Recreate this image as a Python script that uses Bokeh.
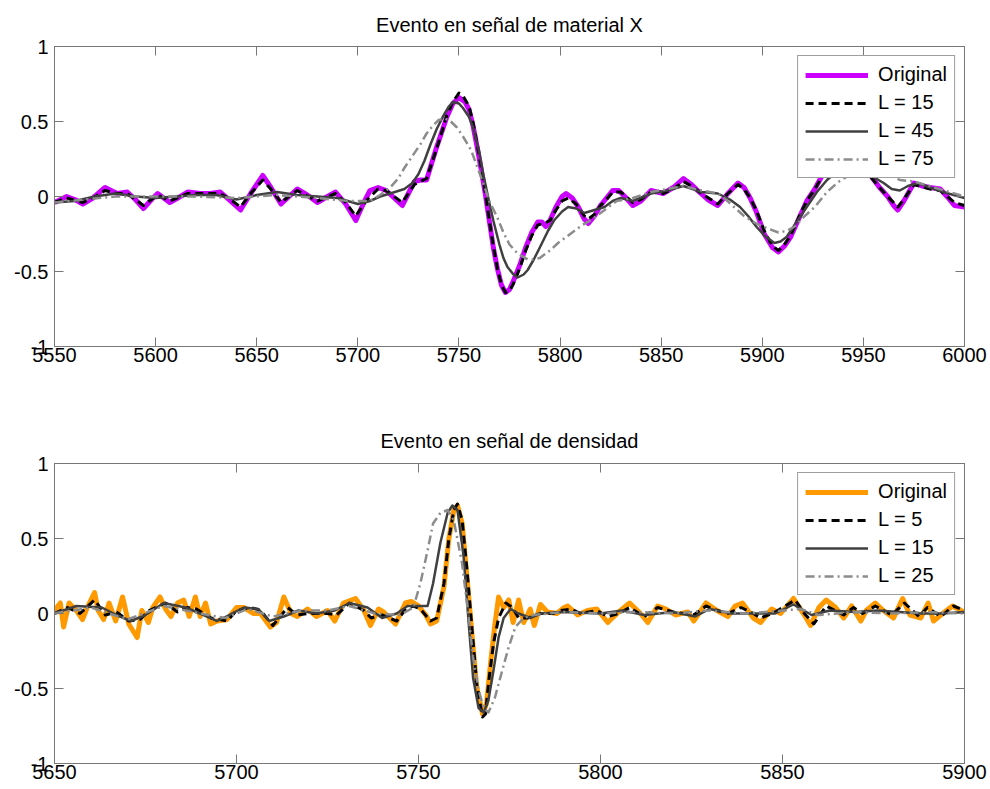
from bokeh.plotting import figure
from bokeh.layouts import column
from bokeh.models import Range1d, FixedTicker, LinearAxis
from bokeh.embed import file_html
from bokeh.resources import INLINE

FONT = "Liberation Sans"

# ---------------- shared y axis ----------------
y_ticks = [-1, -0.5, 0, 0.5, 1]
y_tick_labels = ["-1", "-0.5", "0", "0.5", "1"]

# ---------------- upper panel: material X ----------------
top_title = "Evento en señal de material X"
top_x_ticks = [5550, 5600, 5650, 5700, 5750, 5800, 5850, 5900, 5950, 6000]
top_x_tick_labels = ["5550", "5600", "5650", "5700", "5750", "5800", "5850", "5900", "5950", "6000"]
top_labels = ["Original", "L = 15", "L = 45", "L = 75"]

matx_orig_x = [5550, 5553, 5556, 5560, 5564, 5569, 5575, 5581, 5586, 5590, 5594, 5598, 5601, 5607,
               5611, 5616, 5622, 5627, 5632, 5637, 5642, 5647, 5653, 5657, 5662, 5666, 5670, 5675,
               5680, 5685, 5689, 5694, 5699, 5703, 5706, 5710, 5714, 5718, 5722, 5725, 5728, 5731,
               5734, 5736, 5739, 5742, 5744, 5747, 5750, 5753, 5755, 5757, 5759, 5761, 5763, 5765,
               5767, 5769, 5771, 5773, 5775, 5777, 5780, 5783, 5786, 5789, 5791, 5793, 5795, 5798,
               5801, 5803, 5806, 5809, 5812, 5814, 5817, 5820, 5823, 5826, 5829, 5832, 5836, 5840,
               5845, 5851, 5856, 5861, 5865, 5868, 5873, 5878, 5883, 5888, 5891, 5894, 5897, 5901,
               5905, 5908, 5911, 5914, 5918, 5922, 5926, 5930, 5935, 5940, 5945, 5950, 5953, 5958,
               5962, 5965, 5967, 5970, 5975, 5979, 5983, 5988, 5992, 5995, 6000]
matx_orig_y = [-0.04, -0.02, 0.0, -0.02, -0.05, -0.01, 0.06, 0.02, 0.03, -0.02, -0.08, -0.02, 0.02, -0.04,
               -0.01, 0.03, 0.02, 0.02, 0.03, -0.03, -0.09, 0.02, 0.14, 0.06, -0.05, 0.0, 0.05, 0.01,
               -0.04, 0.0, 0.03, -0.05, -0.16, -0.04, 0.04, 0.06, 0.04, -0.01, -0.06, 0.02, 0.10, 0.11,
               0.11, 0.20, 0.33, 0.45, 0.53, 0.62, 0.66, 0.63, 0.58, 0.47, 0.33, 0.18, 0.02, -0.16,
               -0.34, -0.48, -0.59, -0.64, -0.62, -0.56, -0.46, -0.34, -0.24, -0.17, -0.17, -0.20, -0.16, -0.07,
               0.0, 0.02, -0.01, -0.07, -0.15, -0.18, -0.13, -0.06, -0.01, 0.04, 0.04, 0.0, -0.06, -0.03,
               0.04, 0.02, 0.06, 0.12, 0.08, 0.04, -0.02, -0.06, 0.02, 0.09, 0.06, -0.01, -0.10, -0.25,
               -0.34, -0.37, -0.33, -0.27, -0.15, -0.03, 0.05, 0.15, 0.23, 0.28, 0.27, 0.20, 0.15, 0.06,
               0.0, -0.06, -0.09, -0.03, 0.09, 0.07, 0.06, 0.05, -0.01, -0.06, -0.07]

matx_l15_x = [5550, 5556, 5564, 5569, 5575, 5581, 5586, 5594, 5601, 5607, 5616, 5622, 5632, 5637,
              5642, 5647, 5653, 5657, 5662, 5670, 5680, 5689, 5694, 5699, 5704, 5710, 5714, 5718,
              5722, 5725, 5728, 5731, 5734, 5736, 5739, 5742, 5744, 5747, 5750, 5752, 5755, 5757,
              5759, 5761, 5763, 5765, 5767, 5769, 5771, 5773, 5775, 5777, 5780, 5783, 5786, 5789,
              5792, 5795, 5798, 5801, 5804, 5808, 5812, 5814, 5817, 5820, 5823, 5826, 5830, 5836,
              5840, 5845, 5851, 5856, 5861, 5865, 5870, 5878, 5883, 5888, 5891, 5894, 5897, 5901,
              5905, 5908, 5911, 5914, 5918, 5922, 5926, 5930, 5935, 5940, 5945, 5950, 5953, 5958,
              5962, 5967, 5970, 5975, 5983, 5988, 5995, 6000]
matx_l15_y = [-0.04, -0.01, -0.04, -0.01, 0.04, 0.02, 0.02, -0.06, 0.01, -0.03, 0.02, 0.02, 0.02, -0.02,
              -0.07, 0.02, 0.11, 0.05, -0.04, 0.04, -0.03, 0.02, -0.04, -0.13, -0.03, 0.05, 0.04, 0.0,
              -0.04, 0.02, 0.08, 0.10, 0.12, 0.20, 0.32, 0.45, 0.54, 0.63, 0.69, 0.67, 0.60, 0.49,
              0.35, 0.19, 0.03, -0.16, -0.33, -0.48, -0.59, -0.64, -0.63, -0.58, -0.48, -0.36, -0.26, -0.19,
              -0.18, -0.16, -0.09, -0.03, -0.01, -0.05, -0.13, -0.15, -0.12, -0.06, -0.02, 0.03, 0.03, -0.04,
              -0.02, 0.03, 0.02, 0.05, 0.10, 0.07, 0.02, -0.05, 0.02, 0.08, 0.05, -0.01, -0.09, -0.23,
              -0.33, -0.36, -0.32, -0.26, -0.14, -0.03, 0.05, 0.14, 0.22, 0.26, 0.25, 0.19, 0.14, 0.06,
              0.0, -0.07, -0.02, 0.08, 0.05, 0.04, -0.04, -0.06]

matx_l45_x = [5550, 5560, 5570, 5580, 5590, 5600, 5610, 5620, 5630, 5640, 5650, 5660, 5670, 5680,
              5690, 5700, 5706, 5711, 5716, 5723, 5727, 5730, 5733, 5736, 5739, 5742, 5745, 5747,
              5750, 5752, 5755, 5757, 5760, 5762, 5765, 5767, 5770, 5772, 5774, 5777, 5779, 5782,
              5784, 5787, 5790, 5794, 5797, 5801, 5804, 5808, 5812, 5817, 5822, 5826, 5830, 5836,
              5845, 5853, 5861, 5870, 5878, 5884, 5889, 5893, 5897, 5901, 5906, 5909, 5912, 5917,
              5922, 5927, 5932, 5938, 5944, 5950, 5955, 5960, 5964, 5968, 5972, 5977, 5985, 5992, 6000]
matx_l45_y = [-0.04, -0.03, 0.0, 0.02, 0.0, -0.01, 0.0, 0.01, 0.01, -0.02, 0.01, 0.03, 0.01, 0.0,
              -0.01, -0.05, -0.03, 0.0, 0.02, 0.05, 0.09, 0.15, 0.24, 0.35, 0.45, 0.53, 0.60, 0.63,
              0.62, 0.59, 0.53, 0.46, 0.30, 0.15, -0.04, -0.16, -0.32, -0.41, -0.47, -0.52, -0.54, -0.52,
              -0.49, -0.42, -0.34, -0.23, -0.16, -0.10, -0.07, -0.08, -0.11, -0.09, -0.07, -0.03, -0.01, -0.03,
              0.02, 0.04, 0.07, 0.03, 0.02, -0.02, -0.07, -0.13, -0.20, -0.26, -0.31, -0.30, -0.27, -0.17,
              -0.07, 0.03, 0.11, 0.18, 0.20, 0.17, 0.13, 0.09, 0.05, 0.04, 0.07, 0.09, 0.05, 0.02, -0.01]

matx_l75_x = [5550, 5565, 5580, 5600, 5620, 5640, 5660, 5680, 5695, 5706, 5711, 5716, 5720, 5723,
              5727, 5731, 5734, 5737, 5740, 5743, 5746, 5749, 5752, 5756, 5759, 5762, 5765, 5769,
              5772, 5775, 5779, 5784, 5787, 5790, 5795, 5799, 5803, 5807, 5811, 5815, 5820, 5828,
              5836, 5845, 5853, 5861, 5870, 5878, 5882, 5886, 5891, 5897, 5902, 5908, 5912, 5916,
              5921, 5926, 5932, 5938, 5944, 5950, 5956, 5962, 5968, 5975, 5980, 5990, 6000]
matx_l75_y = [-0.04, -0.02, 0.0, 0.0, 0.0, -0.01, 0.01, -0.01, -0.03, -0.03, 0.01, 0.06, 0.12, 0.19,
              0.27, 0.35, 0.42, 0.47, 0.51, 0.52, 0.50, 0.46, 0.40, 0.31, 0.20, 0.09, -0.03, -0.14,
              -0.24, -0.32, -0.38, -0.42, -0.42, -0.41, -0.36, -0.31, -0.27, -0.23, -0.19, -0.16, -0.11, -0.03,
              -0.01, 0.03, 0.05, 0.07, 0.04, 0.02, -0.02, -0.07, -0.13, -0.18, -0.21, -0.24, -0.23, -0.20,
              -0.13, -0.07, 0.03, 0.10, 0.15, 0.17, 0.16, 0.15, 0.11, 0.10, 0.08, 0.04, 0.0]

# ---------------- lower panel: density ----------------
bot_title = "Evento en señal de densidad"
bot_x_ticks = [5650, 5700, 5750, 5800, 5850, 5900]
bot_x_tick_labels = ["5650", "5700", "5750", "5800", "5850", "5900"]
bot_labels = ["Original", "L = 5", "L = 15", "L = 25"]

dens_orig_x = [5650, 5651.6, 5652.5, 5654, 5656, 5657.7, 5659, 5661, 5662, 5663.5, 5665, 5666.8, 5668.7,
               5670.4, 5672.7, 5674, 5675.8, 5677, 5679, 5680.5, 5682, 5683.8, 5685.5, 5687, 5688.7,
               5690, 5691.5, 5692.9, 5694.7, 5697.4, 5700, 5702, 5704.7, 5706.6, 5709.3, 5711, 5713,
               5715, 5716.7, 5719.5, 5722, 5725, 5727, 5729.4, 5732.7, 5735, 5736.8, 5739, 5740.4,
               5743.7, 5746.4, 5748, 5750, 5752, 5753.3, 5755, 5757, 5758.3, 5759.7, 5760.7, 5762,
               5763.4, 5764.8, 5766, 5767.6, 5768.7, 5769.8, 5771, 5772, 5773.4, 5774.8, 5776, 5777.5,
               5778.9, 5780.7, 5781.8, 5783.5, 5785.4, 5788, 5790, 5791, 5793.7, 5796.4, 5799, 5802,
               5805, 5808, 5811, 5813, 5815.7, 5818, 5820.6, 5824, 5825.6, 5829, 5832, 5835, 5837,
               5839, 5842, 5844, 5847, 5849.5, 5853, 5856, 5857.7, 5860, 5862, 5864.6, 5866.8, 5869,
               5871.5, 5873, 5875.5, 5877.7, 5880.5, 5883, 5885, 5888, 5890, 5891.5, 5894, 5896.7,
               5899, 5900]
dens_orig_y = [0.02, 0.07, -0.09, 0.07, 0.02, -0.04, 0.04, 0.14, 0.02, -0.04, 0.07, -0.05, 0.11,
               -0.07, -0.16, 0.02, -0.06, 0.04, 0.11, 0.03, -0.02, 0.07, 0.09, -0.02, 0.11,
               -0.02, 0.07, -0.07, -0.05, -0.04, 0.04, 0.04, 0.0, 0.0, -0.09, -0.06, 0.11,
               0.0, -0.02, 0.03, -0.02, 0.02, -0.05, 0.07, 0.10, 0.02, -0.08, 0.03, 0.01,
               -0.07, 0.07, 0.08, 0.05, -0.01, -0.07, -0.05, 0.18, 0.49, 0.69, 0.72, 0.60,
               0.22, -0.17, -0.49, -0.67, -0.60, -0.33, -0.07, 0.11, 0.04, 0.09, -0.06, 0.09,
               -0.06, 0.03, -0.08, 0.06, 0.01, 0.0, 0.04, 0.05, -0.01, 0.02, 0.03, -0.06,
               0.01, 0.07, 0.0, -0.06, 0.05, 0.03, -0.01, 0.01, -0.05, 0.07, 0.02, -0.02, 0.05,
               0.07, -0.03, -0.06, 0.03, 0.0, 0.10, -0.01, -0.08, 0.04, 0.09, 0.04, -0.03, 0.05,
               -0.05, 0.02, 0.07, 0.02, -0.03, 0.10, -0.01, -0.03, 0.07, -0.05, 0.0, 0.05,
               0.02, 0.01]

dens_l5_x = [5650, 5653.6, 5657, 5661, 5664, 5667, 5670.4, 5673.5, 5676, 5680.5, 5683.8, 5686.5, 5689,
             5693, 5697.5, 5700, 5704, 5706.6, 5710, 5714, 5716.7, 5720, 5725, 5727.5, 5731, 5735,
             5737, 5740, 5744, 5746.5, 5748.6, 5750.5, 5753.3, 5755, 5757, 5758.3, 5759.7, 5760.7,
             5762, 5763.4, 5764.8, 5766, 5767.6, 5768.4, 5769.3, 5770.6, 5772, 5774, 5775.8, 5777.5,
             5780, 5783.5, 5787, 5789, 5792, 5794.5, 5799, 5802, 5805, 5808, 5812, 5815.7, 5820,
             5825.6, 5829, 5832, 5835, 5838.6, 5842, 5844, 5848, 5853.5, 5856, 5858.6, 5862, 5866.8,
             5869.5, 5872, 5875.5, 5880, 5883.5, 5887.5, 5889.8, 5893.5, 5897, 5900]
dens_l5_y = [0.0, 0.04, 0.0, 0.09, -0.01, 0.01, -0.05, -0.04, 0.02, 0.07, 0.01, 0.04, 0.03,
             -0.03, -0.05, 0.02, 0.04, 0.02, -0.08, 0.04, -0.01, 0.0, 0.0, -0.01, 0.07, 0.02,
             -0.03, -0.01, -0.05, 0.03, 0.05, 0.03, -0.05, -0.03, 0.20, 0.49, 0.69, 0.73,
             0.62, 0.27, -0.13, -0.47, -0.69, -0.67, -0.45, -0.20, -0.03, 0.07, 0.04, -0.03,
             -0.03, 0.0, 0.0, 0.02, 0.03, 0.0, 0.02, -0.02, 0.0, 0.04, -0.02, 0.04, 0.01,
             -0.01, 0.05, 0.02, 0.0, 0.04, 0.0, -0.03, 0.01, 0.09, 0.0, -0.07, 0.05, -0.01,
             0.04, 0.0, 0.05, -0.01, 0.07, -0.02, 0.04, -0.02, 0.05, 0.02]

dens_l15_x = [5650, 5656, 5663, 5667, 5671, 5675, 5680, 5686, 5690, 5694.7, 5698, 5702, 5706, 5709,
              5713, 5717, 5722, 5727, 5731, 5736, 5740, 5744, 5747, 5750.5, 5752.5, 5754, 5756, 5758,
              5759.3, 5760.7, 5762.4, 5763.8, 5765, 5766.5, 5767.9, 5769.2, 5770.6, 5772, 5773.4,
              5775.3, 5777.5, 5780.7, 5783.5, 5790, 5800, 5806, 5812, 5820, 5826, 5830, 5836, 5842,
              5848, 5853, 5858, 5863, 5870, 5876, 5882, 5888, 5894, 5900]
dens_l15_y = [0.0, 0.05, 0.04, -0.01, -0.05, -0.01, 0.07, 0.04, 0.0, -0.05, -0.01, 0.04, 0.03, -0.05,
              -0.02, 0.02, 0.0, 0.02, 0.07, 0.04, -0.03, 0.0, 0.05, 0.05, 0.05, 0.20, 0.47, 0.67,
              0.72, 0.69, 0.38, -0.07, -0.43, -0.63, -0.66, -0.58, -0.38, -0.16, -0.03,
              0.03, 0.0, -0.03, 0.0, 0.01, 0.0, 0.02, -0.01, 0.01, -0.02, 0.03, 0.0, 0.0,
              0.0, 0.06, -0.01, 0.02, 0.01, 0.02, 0.01, 0.0, 0.0, 0.01]

dens_l25_x = [5650, 5660, 5670, 5680, 5690, 5697, 5703, 5710, 5718, 5725, 5731, 5738, 5745, 5748.6,
              5750.5, 5752.5, 5754, 5756, 5758, 5759.7, 5762, 5763.8, 5765, 5766.5, 5767.9, 5769.2,
              5771, 5773, 5774.7, 5776.6, 5778.9, 5781.6, 5790, 5800, 5810, 5820, 5830, 5840, 5850,
              5855, 5860, 5870, 5880, 5890, 5900]
dens_l25_y = [0.0, 0.04, -0.04, 0.05, 0.0, -0.03, 0.03, -0.02, 0.02, 0.02, 0.05, 0.0, -0.01, 0.04,
              0.20, 0.42, 0.60, 0.67, 0.69, 0.62, 0.33, -0.03, -0.29, -0.51, -0.63, -0.66,
              -0.56, -0.38, -0.23, -0.09, -0.03, -0.01, 0.01, 0.0, 0.01, 0.0, 0.02, 0.0, 0.02,
              0.03, -0.01, 0.01, 0.0, 0.01, 0.0]

# line styles: (colour, width, dash)
orig_magenta = ("#CC00FF", 5, "solid")
orig_orange = ("#FF9900", 5, "solid")
style_dash = ("#000000", 3, "8 5")
style_solid = ("#404040", 2.5, "solid")
style_dashdot = ("#8C8C8C", 2.5, "9 4 2 4")

AXIS_COLOR = "#777777"


def style_axis(ax, ticks, labels, show_labels):
    ax.ticker = FixedTicker(ticks=ticks)
    ax.axis_line_color = AXIS_COLOR
    ax.major_tick_line_color = AXIS_COLOR
    ax.major_tick_in = 9
    ax.major_tick_out = 0
    ax.minor_tick_line_color = None
    if show_labels:
        ax.major_label_overrides = {t: s for t, s in zip(ticks, labels)}
        ax.major_label_text_font = FONT
        ax.major_label_text_font_size = "20px"
        ax.major_label_text_color = "#000000"
    else:
        ax.major_label_overrides = {t: "" for t in ticks}
        ax.major_label_standoff = 0


def make_panel(title, x0, x1, xticks, xlabels, series, labels, height, border_top, border_bottom,
               title_standoff):
    p = figure(width=990, height=height, x_range=Range1d(x0, x1), y_range=Range1d(-1, 1),
               output_backend="svg", toolbar_location=None,
               min_border_left=54, min_border_right=26,
               min_border_top=border_top, min_border_bottom=border_bottom)
    p.title.text = title
    p.title.align = "center"
    p.title.text_font = FONT
    p.title.text_font_size = "20px"
    p.title.text_font_style = "normal"
    p.title.text_color = "#000000"
    p.title.standoff = title_standoff
    p.grid.visible = False
    p.outline_line_color = AXIS_COLOR
    p.background_fill_color = "white"
    p.border_fill_color = "white"

    style_axis(p.xaxis[0], xticks, xlabels, True)
    p.xaxis[0].major_label_standoff = 1
    style_axis(p.yaxis[0], y_ticks, y_tick_labels, True)
    p.yaxis[0].major_label_standoff = 6

    top_ax = LinearAxis()
    style_axis(top_ax, xticks, xlabels, False)
    p.add_layout(top_ax, "above")
    right_ax = LinearAxis()
    style_axis(right_ax, y_ticks, y_tick_labels, False)
    p.add_layout(right_ax, "right")

    for (xs, ys, (color, width, dash)), label in zip(series, labels):
        p.line(xs, ys, line_color=color, line_width=width, line_dash=dash,
               line_join="round", legend_label=label)

    lg = p.legend[0]
    lg.location = "top_right"
    lg.margin = 9
    lg.padding = 7
    lg.spacing = 5
    lg.glyph_width = 63
    lg.glyph_height = 22
    lg.label_height = 22
    lg.label_standoff = 10
    lg.label_text_font = FONT
    lg.label_text_font_size = "20px"
    lg.label_text_color = "#000000"
    lg.border_line_color = "#404040"
    lg.border_line_width = 1
    lg.background_fill_color = "white"
    lg.background_fill_alpha = 1.0
    return p


top = make_panel(top_title, 5550, 6000, top_x_ticks, top_x_tick_labels,
                 [(matx_orig_x, matx_orig_y, orig_magenta),
                  (matx_l15_x, matx_l15_y, style_dash),
                  (matx_l45_x, matx_l45_y, style_solid),
                  (matx_l75_x, matx_l75_y, style_dashdot)],
                 top_labels, 394, 46, 48, 22)

bottom = make_panel(bot_title, 5650, 5900, bot_x_ticks, bot_x_tick_labels,
                    [(dens_orig_x, dens_orig_y, orig_orange),
                     (dens_l5_x, dens_l5_y, style_dash),
                     (dens_l15_x, dens_l15_y, style_solid),
                     (dens_l25_x, dens_l25_y, style_dashdot)],
                    bot_labels, 395, 69, 26, 23)

layout = column(top, bottom, spacing=0)
open("out.html", "w").write(file_html(layout, INLINE))
